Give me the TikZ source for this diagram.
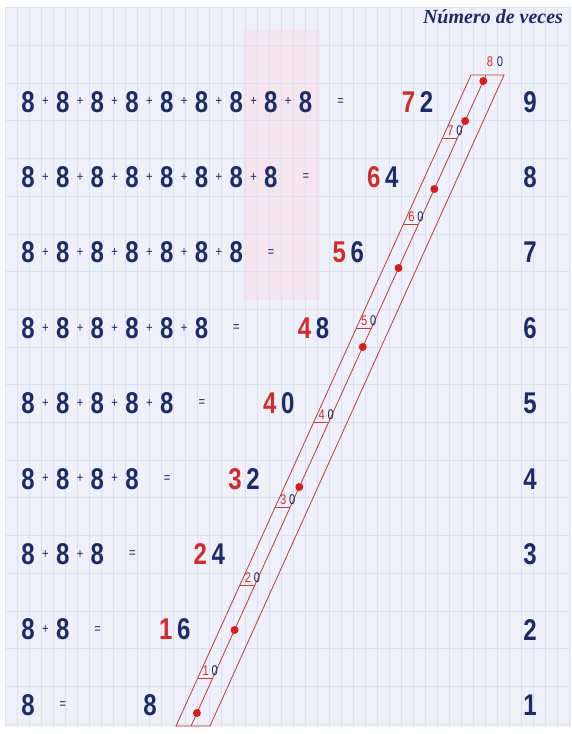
\documentclass[tikz,border=0pt]{standalone}
\usepackage{fontspec}
\setmainfont{Liberation Sans}
\newfontfamily\numfont[FakeStretch=0.8]{Liberation Sans}
\newfontfamily\titlefont{Liberation Serif}
\definecolor{navy}{HTML}{1C2B6B}
\definecolor{redd}{HTML}{D42A2A}
\definecolor{bandred}{HTML}{C23A3A}
\definecolor{dotred}{HTML}{E01A1A}
\definecolor{paper}{HTML}{EEF0FA}
\definecolor{gridc}{HTML}{DCE1F1}
\definecolor{pinkbg}{HTML}{F6E4EE}
\tikzset{
  dig/.style={font=\numfont\bfseries\fontsize{30}{30}\selectfont, text=navy, inner sep=0pt},
  rdig/.style={dig, text=redd},
  op/.style={font=\numfont\fontsize{14}{14}\selectfont, text=navy, inner sep=0pt},
  tk/.style={font=\numfont\fontsize{14}{14}\selectfont, inner sep=0pt},
  band/.style={draw=bandred, line width=0.8pt},
  gridline/.style={draw=gridc, line width=0.5pt},
  titlestyle/.style={font=\titlefont\bfseries\itshape\fontsize{20}{20}\selectfont, text=navy, inner sep=0pt}
}
\begin{document}
\begin{tikzpicture}[x=1pt,y=-1pt]
\useasboundingbox (0,0) rectangle (571,734);
% paper
\fill[paper] (5,7) rectangle (571,727);
\fill[pinkbg] (243,30) rectangle (320,300);
\foreach \gx in {5,17,...,569} \draw[gridline] (\gx,7) -- (\gx,727);
\foreach \gy in {7.6,45.3,...,727} \draw[gridline] (5,\gy) -- (571,\gy);
% title
\node[titlestyle] (title) at (493,17) {Número de veces};
% rows
\foreach \k in {1,...,9}{
  \pgfmathsetmacro{\yy}{705-75.4*(\k-1)}
  \foreach \j in {1,...,\k}{
    \node[dig] (e\k-\j) at ({28+34.7*(\j-1)},\yy) {8};
  }
  \ifnum\k>1
    \foreach \j in {2,...,\k}{
      \node[op] (p\k-\j) at ({28+34.7*(\j-1)-17.35},\yy) {+};
    }
  \fi
  \pgfmathsetmacro{\eqx}{28+34.7*(\k-1)+35}
  \node[op] (q\k) at (\eqx,\yy) {=};
  \pgfmathtruncatemacro{\tens}{int(8*\k/10)}
  \pgfmathtruncatemacro{\ones}{mod(8*\k,10)}
  \ifnum\k>1
    \node[rdig] (rt\k) at ({\eqx+68},\yy) {\tens};
    \node[dig] (ro\k) at ({\eqx+86},\yy) {\ones};
  \else
    \node[dig] (ro\k) at ({\eqx+87},\yy) {8};
  \fi
  \node[dig] (n\k) at (530,\yy) {\k};
}
% band
\coordinate (BL) at (176,726);
\coordinate (BR) at (210,726);
\coordinate (TL) at (471,75);
\coordinate (TR) at (504,75);
\coordinate (BM) at (191,726);
\coordinate (TM) at (486,75);
\draw[band] (BL) -- (TL) -- (TR) -- (BR) -- cycle;
\draw[band] (BM) -- (TM);
\foreach \t/\ty in {1/678,2/585,3/507,4/422,5/328,6/224,7/138}{
  \pgfmathsetmacro{\xl}{176+0.45315*(726-\ty)}
  \draw[band] (\xl,\ty) -- ({\xl+15},\ty);
  \node[tk,text=redd] (ta\t) at ({\xl+8},{\ty-7.5}) {\t};
  \node[tk,text=navy] (tb\t) at ({\xl+17},{\ty-7.5}) {0};
}
\node[tk,text=redd] (ta8) at (490,62) {8};
\node[tk,text=navy] (tb8) at (500,62) {0};
\foreach \dy in {713,630,487,347,268,189,121,81}
  \fill[dotred] ({191+0.45315*(726-\dy)},\dy) circle[radius=4pt];
\end{tikzpicture}
\end{document}
